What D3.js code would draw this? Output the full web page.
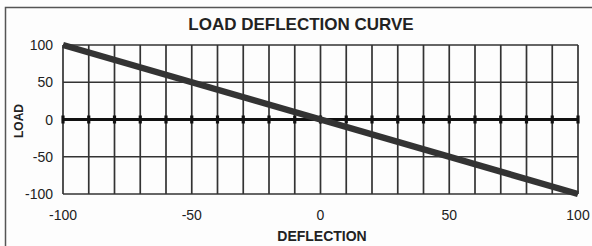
<!DOCTYPE html>
<html>
<head>
<meta charset="utf-8">
<script src="https://cdn.jsdelivr.net/npm/d3@7"></script>
<style>
body { margin:0; background:#fff; }
text { font-family: "Liberation Sans", Arial, sans-serif; fill:#222; }
</style>
</head>
<body>
<svg id="chart" width="592" height="246"></svg>
<script>
var deflection = [-100, 100];
var load = [100, -100];
var xTicks = [-100, -50, 0, 50, 100];
var yTicks = [-100, -50, 0, 50, 100];
var xGrid = d3.range(-100, 101, 10);
var title = 'LOAD DEFLECTION CURVE';

var svg = d3.select('#chart');
var plotLeft = 63, plotRight = 578, plotTop = 45, plotBottom = 194;

var x = d3.scaleLinear().domain([-100, 100]).range([plotLeft, plotRight]);
var y = d3.scaleLinear().domain([-100, 100]).range([plotBottom, plotTop]);

// frame
svg.append('rect').attr('x', 0).attr('y', 0).attr('width', 592).attr('height', 246).attr('fill', '#fdfdfd');
svg.append('path').attr('d', 'M5.5,246 V7.5 H592').attr('fill', 'none').attr('stroke', '#555').attr('stroke-width', 1.5);

// grid
svg.append('g').selectAll('line').data(xGrid).enter().append('line')
	.attr('x1', function(d){ return x(d); }).attr('x2', function(d){ return x(d); })
	.attr('y1', plotTop).attr('y2', plotBottom)
	.attr('stroke', '#333').attr('stroke-width', 1.7);
svg.append('g').selectAll('line').data(yTicks.filter(function(d){ return d!=0; })).enter().append('line')
	.attr('x1', plotLeft).attr('x2', plotRight)
	.attr('y1', function(d){ return y(d); }).attr('y2', function(d){ return y(d); })
	.attr('stroke', '#333').attr('stroke-width', 1.7);

// zero axis with tick marks
svg.append('line').attr('x1', plotLeft).attr('x2', plotRight).attr('y1', y(0)).attr('y2', y(0))
	.attr('stroke', '#111').attr('stroke-width', 3);
svg.append('g').selectAll('line').data(xGrid).enter().append('line')
	.attr('x1', function(d){ return x(d); }).attr('x2', function(d){ return x(d); })
	.attr('y1', y(0)-4).attr('y2', y(0)+4)
	.attr('stroke', '#111').attr('stroke-width', 3.2);

// curve
var line = d3.line().x(function(d){ return x(d[0]); }).y(function(d){ return y(d[1]); });
svg.append('path').datum(d3.zip(deflection, load)).attr('d', line)
	.attr('fill', 'none').attr('stroke', '#333').attr('stroke-width', 6.5);

// tick labels
svg.append('g').selectAll('text').data(yTicks).enter().append('text')
	.attr('x', plotLeft-10).attr('y', function(d){ return y(d)+5; })
	.attr('text-anchor', 'end').style('font-size', '14px').text(function(d){ return d; });
svg.append('g').selectAll('text').data(xTicks).enter().append('text')
	.attr('x', function(d){ return x(d); }).attr('y', 220)
	.attr('text-anchor', 'middle').style('font-size', '14px').text(function(d){ return d; });

// titles
svg.append('text').attr('x', 301).attr('y', 30).attr('text-anchor', 'middle')
	.style('font-size', '17px').style('font-weight', 'bold').text(title);
svg.append('text').attr('x', 322).attr('y', 241).attr('text-anchor', 'middle')
	.style('font-size', '14px').style('font-weight', 'bold').text('DEFLECTION');
svg.append('text').attr('transform', 'translate(23,121) rotate(-90)').attr('text-anchor', 'middle')
	.style('font-size', '12px').style('font-weight', 'bold').text('LOAD');
</script>
</body>
</html>
